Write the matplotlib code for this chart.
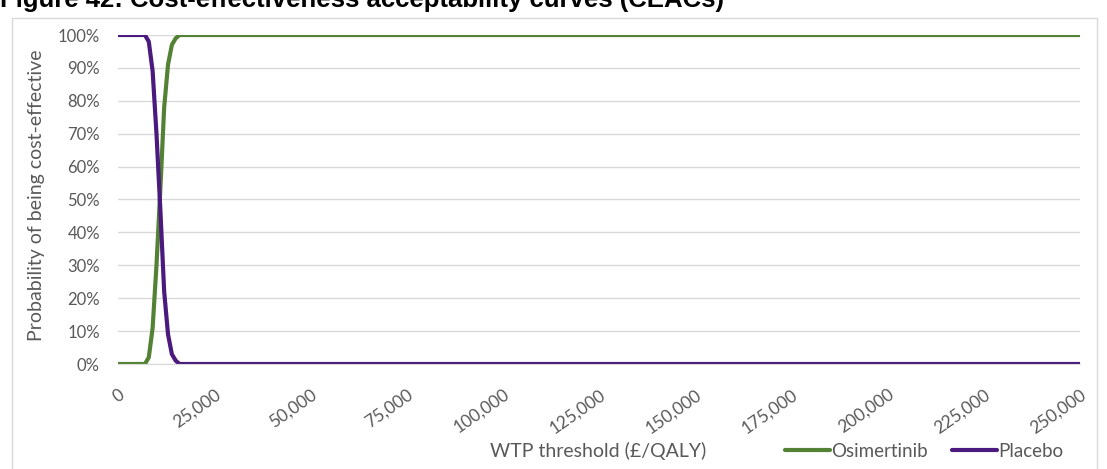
import matplotlib
matplotlib.use("Agg")
import matplotlib.pyplot as plt
from matplotlib.patches import Rectangle
from matplotlib.ticker import FuncFormatter, MultipleLocator

# WTP threshold (GBP/QALY) and probability of being cost-effective
wtp = [0, 1000, 2000, 3000, 4000, 5000, 6000, 7000, 8000, 9000, 10000, 11000,
       12000, 13000, 14000, 15000, 16000, 17000, 18000, 19000, 20000, 250000]
osimertinib = [0, 0, 0, 0, 0, 0, 0, 0.0, 0.02, 0.11, 0.30, 0.53,
               0.78, 0.91, 0.97, 0.99, 1.0, 1.0, 1.0, 1.0, 1.0, 1.0]
placebo = [1 - v for v in osimertinib]

xticks = [0, 25000, 50000, 75000, 100000, 125000, 150000, 175000, 200000, 225000, 250000]

green = "#548235"
purple = "#4B1A7E"
grey_txt = "#595959"
font = "Lato"

fig = plt.figure(figsize=(11.07, 4.69), dpi=100)
ax = fig.add_axes([118/1107, 1 - 364/469, 962/1107, 329/469])

ax.plot(wtp, osimertinib, color=green, lw=3, label="Osimertinib", solid_capstyle="round")
ax.plot(wtp, placebo, color=purple, lw=3, label="Placebo", solid_capstyle="round")

ax.set_xlim(0, 250000)
ax.set_ylim(0, 1)
ax.set_xticks(xticks)
ax.xaxis.set_major_formatter(FuncFormatter(lambda v, p: f"{int(v):,}"))
ax.yaxis.set_major_locator(MultipleLocator(0.1))
ax.yaxis.set_major_formatter(FuncFormatter(lambda v, p: f"{round(v*100)}%"))
ax.grid(axis="y", color="#D9D9D9", lw=1)
ax.set_axisbelow(True)
for s in ["top", "right", "left"]:
    ax.spines[s].set_visible(False)
ax.spines["bottom"].set_color("#D9D9D9")
ax.tick_params(length=0, colors=grey_txt, labelsize=12)
ax.tick_params(axis="y", pad=13)
ax.tick_params(axis="x", pad=16, labelsize=12.5)
for lab in ax.get_xticklabels():
    lab.set_rotation(35)
    lab.set_ha("right")
    lab.set_va("top")
    lab.set_rotation_mode("anchor")
    lab.set_fontfamily(font)
for lab in ax.get_yticklabels():
    lab.set_fontfamily(font)

fig.text(37/1107, 1 - 195/469, "Probability of being cost-effective", rotation=90,
         ha="center", va="center", color=grey_txt, fontsize=14, family=font)
fig.text(598/1107, 1 - 451/469, "WTP threshold (\u00a3/QALY)", ha="center", va="center",
         color=grey_txt, fontsize=14, family=font)

leg = fig.legend(loc="center", bbox_to_anchor=(924/1107, 1 - 451/469), ncol=2,
                 frameon=False, handlelength=2.4, handletextpad=0.05,
                 columnspacing=1.3, prop={"family": font, "size": 13.5})
for t in leg.get_texts():
    t.set_color(grey_txt)

# chart frame and clipped caption above it
fig.patches.append(Rectangle((12/1107, -0.05), 1085/1107, 1.05 - 18/469,
                             transform=fig.transFigure, fill=False,
                             edgecolor="#D9D9D9", lw=1))
fig.text(0, 1 - 7/469, "Figure 42: Cost-effectiveness acceptability curves (CEACs)",
         ha="left", va="baseline", fontsize=18.5, fontweight="bold",
         family="Liberation Sans")

fig.savefig("out.png", dpi=100)
